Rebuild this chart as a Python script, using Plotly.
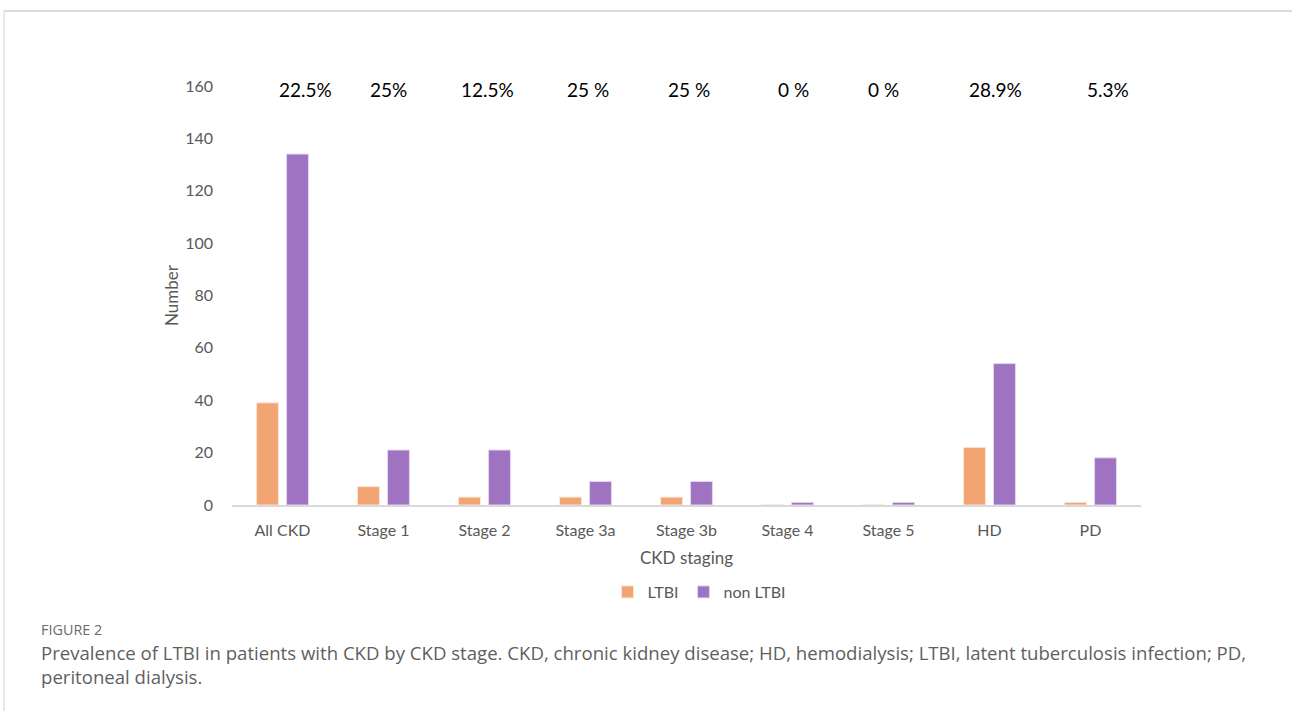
import plotly.graph_objects as go

categories = ["All CKD", "Stage 1", "Stage 2", "Stage 3a", "Stage 3b", "Stage 4", "Stage 5", "HD", "PD"]
ltbi = [39, 7, 3, 3, 3, 0, 0, 22, 1]
non_ltbi = [134, 21, 21, 9, 9, 1, 1, 54, 18]
pct_labels = ["22.5%", "25%", "12.5%", "25 %", "25 %", "0 %", "0 %", "28.9%", "5.3%"]

# horizontal nudges (px) of the hand-placed percentage labels
label_nudge = [23, 5, 3, 2, 2, 6, -5, 6, 17]

W, H = 1292, 711
L, R, T, B = 232, 1141, 86, 505
pw, ph = R - L, B - T

def px(x):
    return (x - L) / pw

def py(y):
    return (B - y) / ph

ORANGE = "#F2A472"
PURPLE = "#9F73C2"
FONT = "Lato, 'Open Sans', sans-serif"
CAP_FONT = "'Open Sans', sans-serif"

fig = go.Figure()
fig.add_trace(go.Bar(x=categories, y=ltbi, name="LTBI",
                     marker=dict(color=ORANGE, line=dict(color="#FBE3D3", width=1))))
fig.add_trace(go.Bar(x=categories, y=non_ltbi, name="non LTBI",
                     marker=dict(color=PURPLE, line=dict(color="#E3D5EF", width=1))))

annotations = []
for c, t, dx in zip(categories, pct_labels, label_nudge):
    annotations.append(dict(x=c, y=160, xref="x", yref="y", text=t, showarrow=False, xshift=dx,
                            font=dict(family=FONT, size=19, color="#000000"), yanchor="middle", yshift=-3))

annotations += [
    dict(x=px(686), y=py(557), xref="paper", yref="paper", text="CKD staging", showarrow=False,
         font=dict(family=FONT, size=17, color="#595959"), xanchor="center", yanchor="middle"),
    dict(x=px(171), y=py(295), xref="paper", yref="paper", text="Number", showarrow=False, textangle=-90,
         font=dict(family=FONT, size=17, color="#595959"), xanchor="center", yanchor="middle"),
    dict(x=px(39), y=py(629), xref="paper", yref="paper", text="FIGURE 2", showarrow=False,
         font=dict(family=CAP_FONT, size=14.4, color="#6b6b6b"), xanchor="left", yanchor="middle"),
    dict(x=px(39), y=py(652), xref="paper", yref="paper",
         text="Prevalence of LTBI in patients with CKD by CKD stage. CKD, chronic kidney disease; HD, hemodialysis; LTBI, latent tuberculosis infection; PD,",
         showarrow=False, font=dict(family=CAP_FONT, size=18.6, color="#5f5f5f"), xanchor="left", yanchor="middle"),
    dict(x=px(39), y=py(676), xref="paper", yref="paper", text="peritoneal dialysis.",
         showarrow=False, font=dict(family=CAP_FONT, size=18.6, color="#5f5f5f"), xanchor="left", yanchor="middle"),
]

shapes = [
    dict(type="line", xref="paper", yref="paper", x0=px(4), x1=px(W), y0=py(11), y1=py(11),
         line=dict(color="#d0d0d0", width=1.5)),
    dict(type="line", xref="paper", yref="paper", x0=px(4), x1=px(4), y0=py(11), y1=py(H + 5),
         line=dict(color="#d0d0d0", width=1)),
]

fig.update_layout(
    width=W, height=H,
    margin=dict(l=L, r=W - R, t=T, b=H - B, pad=0),
    paper_bgcolor="white", plot_bgcolor="white",
    barmode="group", bargap=0.406, bargroupgap=0.27,
    showlegend=True,
    legend=dict(orientation="h", x=px(699), y=py(592), xanchor="center", yanchor="middle",
                font=dict(family=FONT, size=16, color="#595959"), itemwidth=30, tracegroupgap=0),
    annotations=annotations, shapes=shapes,
    xaxis=dict(showline=True, linecolor="#d9d9d9", linewidth=1.5, ticks="", showgrid=False,
               tickfont=dict(family=FONT, size=16, color="#595959"), ticklabelstandoff=10),
    yaxis=dict(range=[0, 160], dtick=20, showgrid=False, zeroline=False, showline=False, ticks="",
               tickfont=dict(family=FONT, size=16, color="#595959"), ticklabelstandoff=18),
)

fig.write_html("out.html", config={"displayModeBar": False},
               post_script="document.body.style.margin='0';document.body.style.overflow='hidden';")
